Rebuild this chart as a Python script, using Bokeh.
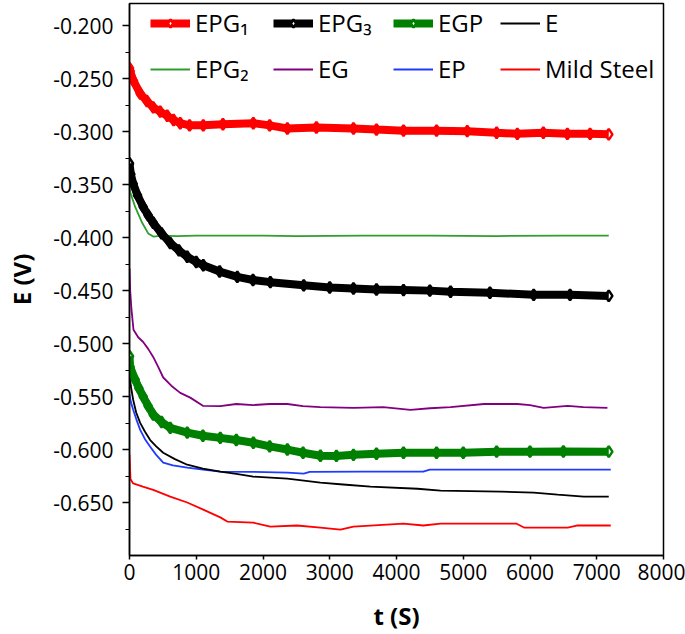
from bokeh.plotting import figure
from bokeh.models import Range1d, SingleIntervalTicker, PrintfTickFormatter, Legend, LegendItem
from bokeh.embed import file_html
from bokeh.resources import INLINE

# ---- data ----
t_epg1 = [0, 10, 60, 160, 260, 355, 460, 565, 660, 760, 900, 1105, 1400, 1855, 2100, 2365, 2800, 3355, 3700, 4105, 4600, 5060, 5500, 5810, 6200, 6560, 6900, 7180]
v_epg1 = [-0.240, -0.243, -0.252, -0.264, -0.271, -0.277, -0.281, -0.285, -0.289, -0.292, -0.294, -0.294, -0.293, -0.292, -0.294, -0.297, -0.296, -0.297, -0.298, -0.299, -0.299, -0.2995, -0.301, -0.302, -0.301, -0.302, -0.302, -0.3025]

t_epg3 = [0, 20, 55, 120, 205, 280, 355, 480, 610, 740, 865, 1000, 1105, 1350, 1615, 1850, 2110, 2610, 3000, 3355, 3700, 4105, 4500, 4810, 5400, 6055, 6600, 7180]
v_epg3 = [-0.330, -0.340, -0.349, -0.360, -0.371, -0.379, -0.386, -0.396, -0.405, -0.412, -0.418, -0.423, -0.426, -0.432, -0.437, -0.440, -0.442, -0.445, -0.447, -0.448, -0.449, -0.4495, -0.450, -0.451, -0.452, -0.454, -0.454, -0.455]

t_egp = [0, 10, 85, 140, 205, 280, 355, 480, 610, 865, 1100, 1360, 1600, 1855, 2100, 2365, 2600, 2860, 3100, 3355, 3700, 4105, 4600, 5000, 5500, 6000, 6500, 7180]
v_egp = [-0.512, -0.522, -0.534, -0.542, -0.550, -0.559, -0.567, -0.574, -0.5795, -0.584, -0.587, -0.589, -0.591, -0.5936, -0.597, -0.600, -0.603, -0.6058, -0.606, -0.605, -0.604, -0.603, -0.603, -0.603, -0.602, -0.602, -0.6018, -0.602]

t_e = [0, 20, 55, 100, 160, 230, 310, 400, 505, 680, 865, 1100, 1360, 1600, 1855, 2365, 2860, 3200, 3610, 4315, 4660, 5560, 6055, 6415, 6805, 7180]
v_e = [-0.527, -0.540, -0.553, -0.565, -0.5748, -0.583, -0.591, -0.597, -0.603, -0.609, -0.6143, -0.618, -0.6209, -0.623, -0.6256, -0.6275, -0.6313, -0.633, -0.635, -0.637, -0.6388, -0.6397, -0.6407, -0.6426, -0.6445, -0.6445]

t_epg2 = [0, 10, 85, 190, 280, 355, 500, 700, 1000, 1500, 2000, 2500, 3500, 4500, 5500, 6500, 7180]
v_epg2 = [-0.352, -0.357, -0.371, -0.386, -0.396, -0.399, -0.398, -0.3985, -0.398, -0.398, -0.398, -0.3985, -0.398, -0.398, -0.3985, -0.398, -0.398]

t_eg = [0, 10, 30, 60, 130, 205, 280, 355, 430, 505, 630, 760, 910, 1105, 1360, 1600, 1855, 2100, 2365, 2600, 2860, 3355, 3800, 4210, 4500, 4810, 5310, 5810, 6000, 6205, 6565, 6800, 7160]
v_eg = [-0.429, -0.450, -0.468, -0.487, -0.494, -0.4985, -0.505, -0.5126, -0.522, -0.532, -0.540, -0.5465, -0.551, -0.5588, -0.559, -0.557, -0.558, -0.557, -0.557, -0.559, -0.560, -0.5606, -0.560, -0.5625, -0.561, -0.560, -0.557, -0.557, -0.558, -0.5606, -0.5588, -0.560, -0.5606]

t_ep = [0, 20, 55, 100, 160, 230, 310, 400, 505, 650, 865, 1100, 1360, 1800, 2365, 2610, 2700, 3500, 4400, 4500, 5500, 6500, 7210]
v_ep = [-0.548, -0.555, -0.5625, -0.571, -0.5814, -0.590, -0.5974, -0.605, -0.6124, -0.615, -0.6171, -0.619, -0.6209, -0.621, -0.6218, -0.6228, -0.621, -0.6209, -0.6209, -0.619, -0.619, -0.619, -0.619]

t_ms = [0, 15, 55, 200, 355, 610, 865, 1105, 1360, 1465, 1855, 2110, 2510, 2860, 3160, 3355, 4105, 4400, 4660, 5800, 5910, 6565, 6700, 7210]
v_ms = [-0.605, -0.628, -0.632, -0.635, -0.638, -0.6444, -0.650, -0.6567, -0.664, -0.668, -0.669, -0.6727, -0.6717, -0.6736, -0.6755, -0.6727, -0.670, -0.6717, -0.670, -0.670, -0.6736, -0.6736, -0.6717, -0.6717]

x_ticks_interval = 1000
y_ticks_interval = 0.05
x_min, x_max = 0, 8000
y_min, y_max = -0.7, -0.179

FONT = "Open Sans"

p = figure(width=685, height=634, output_backend="svg", toolbar_location=None,
           x_range=Range1d(x_min, x_max), y_range=Range1d(y_min, y_max),
           min_border_left=129, min_border_right=22, min_border_top=3, min_border_bottom=78)
p.grid.visible = False
p.outline_line_color = "black"
p.outline_line_width = 1.5
p.background_fill_color = "white"

# axes
p.xaxis.ticker = SingleIntervalTicker(interval=x_ticks_interval, num_minor_ticks=0)
p.yaxis.ticker = SingleIntervalTicker(interval=y_ticks_interval, num_minor_ticks=2)
p.yaxis.formatter = PrintfTickFormatter(format="%.3f")
for ax in (p.xaxis, p.yaxis):
    ax.axis_line_width = 1.5
    ax.axis_line_color = "black"
    ax.major_tick_line_color = "black"
    ax.major_tick_line_width = 1.5
    ax.minor_tick_line_color = "black"
    ax.minor_tick_line_width = 1.2
    ax.major_label_text_font = FONT
    ax.major_label_text_font_size = "21px"
    ax.major_label_text_color = "black"
    ax.axis_label_text_font = FONT
    ax.axis_label_text_font_style = "bold"
    ax.axis_label_text_font_size = "24px"
    ax.axis_label_text_color = "black"
p.xaxis.major_tick_in = 0
p.xaxis.major_tick_out = 4
p.xaxis.major_label_standoff = 4
p.xaxis.axis_label = "t (S)"
p.xaxis.axis_label_standoff = 16
p.yaxis.major_tick_in = 0
p.yaxis.major_tick_out = 7
p.yaxis.minor_tick_in = 0
p.yaxis.minor_tick_out = 4
p.yaxis.major_label_standoff = 9
p.yaxis.axis_label = "E (V)"
p.yaxis.axis_label_standoff = 12

# series
def thick(t, v, color):
    sc = p.scatter(t, v, marker="diamond", size=11, fill_color="white",
                   line_color=color, line_width=2.5)
    ln = p.line(t, v, line_color=color, line_width=8)
    return [ln, sc]

def thin(t, v, color, w=1.8):
    return [p.line(t, v, line_color=color, line_width=w)]

r_ms = thin(t_ms, v_ms, "#FF0000")
r_ep = thin(t_ep, v_ep, "#1F3BFF")
r_e = thin(t_e, v_e, "black")
r_eg = thin(t_eg, v_eg, "#800080")
r_epg2 = thin(t_epg2, v_epg2, "#2E9E2E")
r_egp = thick(t_egp, v_egp, "#008000")
r_epg3 = thick(t_epg3, v_epg3, "black")
r_epg1 = thick(t_epg1, v_epg1, "#FF0000")

# legend: four columns of two entries each
columns = [
    [("EPG\u2081", r_epg1), ("EPG\u2082", r_epg2)],
    [("EPG\u2083", r_epg3), ("EG", r_eg)],
    [("EGP", r_egp), ("EP", r_ep)],
    [("E", r_e), ("Mild Steel", r_ms)],
]
col_x = [21, 144, 264, 371]
for cx, col in zip(col_x, columns):
    lg = Legend(items=[LegendItem(label=l, renderers=r) for l, r in col],
                orientation="vertical", location=(cx, 470), margin=0, padding=0, spacing=13,
                glyph_width=40, glyph_height=20, label_height=20, label_standoff=5,
                label_text_font=FONT, label_text_font_size="24px", label_text_color="black",
                border_line_color=None, background_fill_alpha=0)
    p.add_layout(lg, "center")

open("out.html", "w").write(file_html(p, INLINE))
